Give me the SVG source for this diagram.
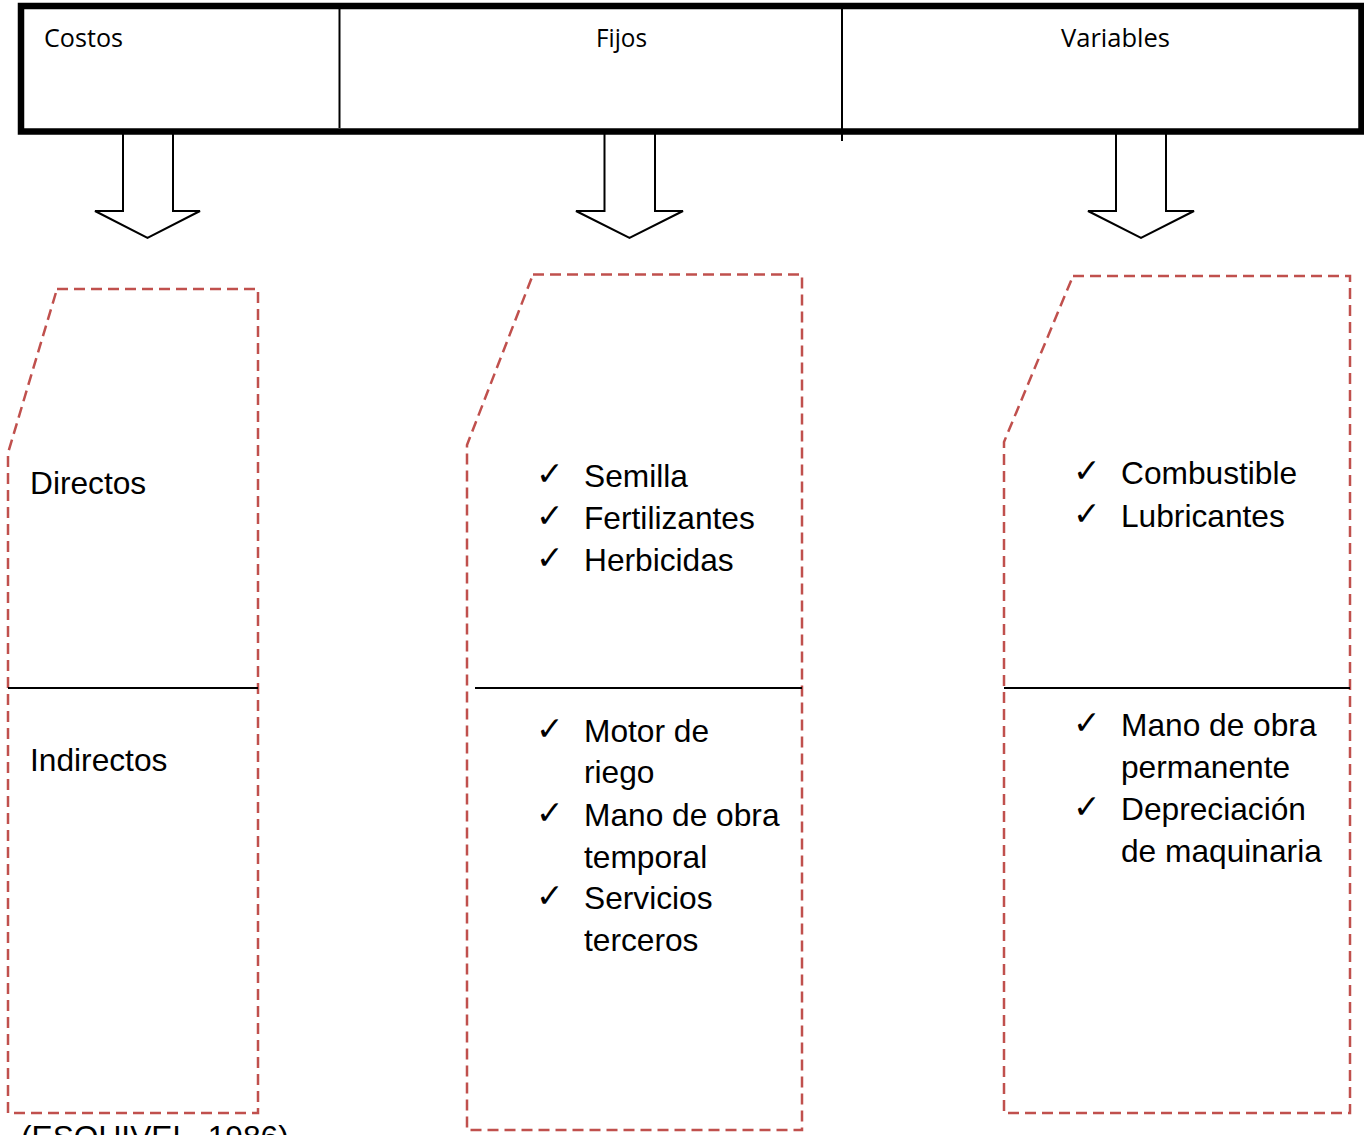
<svg xmlns="http://www.w3.org/2000/svg" width="1364" height="1135" viewBox="0 0 1364 1135">
<style>
.hdr{font-family:"Open Sans","Noto Sans",sans-serif;font-size:26px;fill:#000}
.t{font-family:"Liberation Sans",Arial,sans-serif;font-size:31.7px;fill:#000}
.ck{font-family:"DejaVu Sans",sans-serif;font-size:33px;fill:#000}
.arrow{fill:#fff;stroke:#000;stroke-width:2}
.dash{fill:none;stroke:#c0504d;stroke-width:2.5;stroke-dasharray:11 6}
.sep{stroke:#000;stroke-width:2;fill:none}
</style>
<rect width="1364" height="1135" fill="#fff"/>
<g id="connectors">
<polygon class="arrow" points="123,132 173,132 173,211 200,211 147.5,238 95,211 123,211"/>
<polygon class="arrow" points="604.5,132 655,132 655,211 683,211 629.5,238 576,211 604.5,211"/>
<polygon class="arrow" points="1116,132 1166,132 1166,211 1194,211 1141,238 1088,211 1116,211"/>
</g>
<g id="header">
<rect x="21" y="6" width="1340.5" height="125.5" fill="none" stroke="#000" stroke-width="6.5"/>
<line x1="339.5" y1="9" x2="339.5" y2="128" class="sep"/>
<line x1="842" y1="9" x2="842" y2="141" class="sep"/>
<text class="hdr" x="44" y="47" textLength="79" lengthAdjust="spacingAndGlyphs">Costos</text>
<text class="hdr" x="596" y="47" textLength="51" lengthAdjust="spacingAndGlyphs">Fijos</text>
<text class="hdr" x="1061" y="47" textLength="109" lengthAdjust="spacingAndGlyphs">Variables</text>
</g>
<g id="node-directos">
<path class="dash" d="M57,289 L258,289 L258,1113 L8,1113 L8,453 Z"/>
<line class="sep" x1="8" y1="688" x2="258" y2="688"/>
<text class="t" x="30" y="494">Directos</text>
<text class="t" x="30" y="771">Indirectos</text>
</g>
<g id="node-fijos">
<path class="dash" d="M533,274.5 L802,274.5 L802,1130 L467,1130 L467,445 Z"/>
<line class="sep" x1="475" y1="688" x2="802" y2="688"/>
<text class="ck" x="536" y="485">✓</text>
<text class="t" x="584" y="487">Semilla</text>
<text class="ck" x="536" y="527">✓</text>
<text class="t" x="584" y="529">Fertilizantes</text>
<text class="ck" x="536" y="569">✓</text>
<text class="t" x="584" y="571">Herbicidas</text>
<text class="ck" x="536" y="740">✓</text>
<text class="t" x="584" y="742">Motor de</text>
<text class="t" x="584" y="783">riego</text>
<text class="ck" x="536" y="824">✓</text>
<text class="t" x="584" y="826">Mano de obra</text>
<text class="t" x="584" y="868">temporal</text>
<text class="ck" x="536" y="907">✓</text>
<text class="t" x="584" y="909">Servicios</text>
<text class="t" x="584" y="951">terceros</text>
</g>
<g id="node-variables">
<path class="dash" d="M1073,276 L1350,276 L1350,1113 L1004,1113 L1004,442 Z"/>
<line class="sep" x1="1004" y1="688" x2="1350" y2="688"/>
<text class="ck" x="1073" y="482">✓</text>
<text class="t" x="1121" y="484">Combustible</text>
<text class="ck" x="1073" y="525">✓</text>
<text class="t" x="1121" y="527">Lubricantes</text>
<text class="ck" x="1073" y="734">✓</text>
<text class="t" x="1121" y="736">Mano de obra</text>
<text class="t" x="1121" y="778">permanente</text>
<text class="ck" x="1073" y="818">✓</text>
<text class="t" x="1121" y="820">Depreciación</text>
<text class="t" x="1121" y="862">de maquinaria</text>
</g>
<g id="source">
<text class="t" x="21" y="1148">(ESQUIVEL, 1986)</text>
</g>
</svg>
